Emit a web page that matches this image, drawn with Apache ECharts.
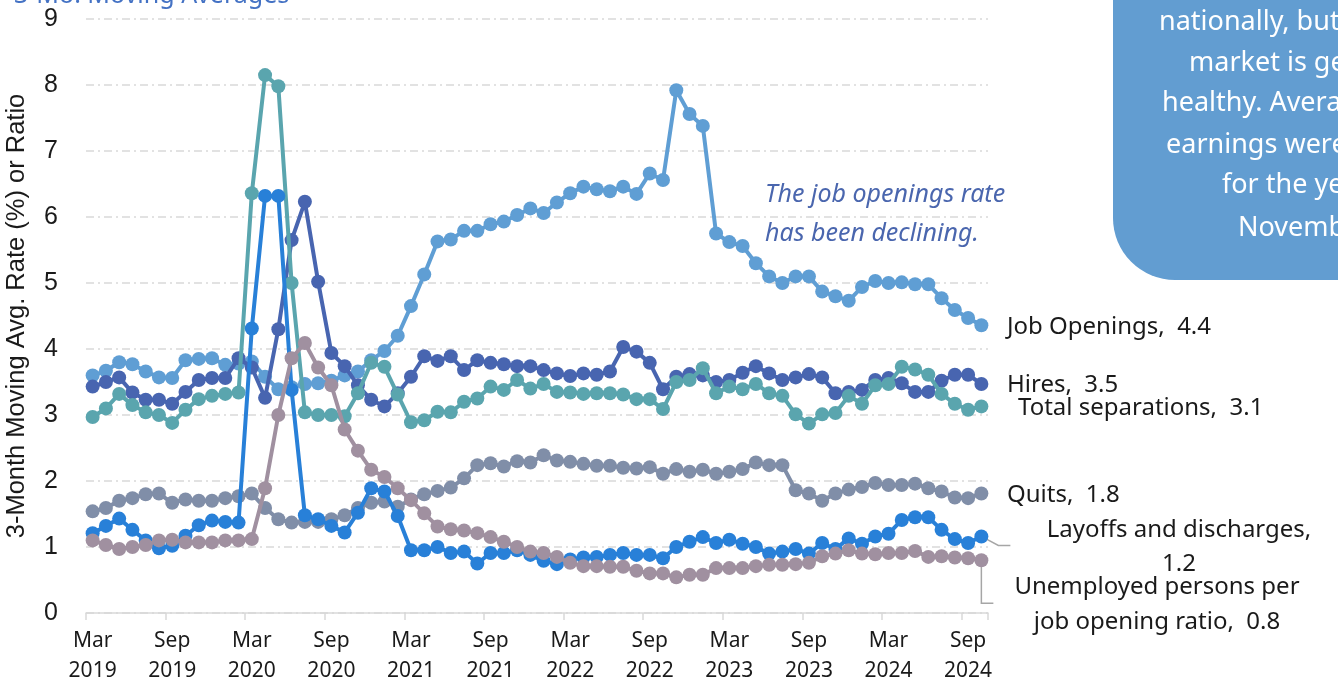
<!DOCTYPE html>
<html>
<head>
<meta charset="utf-8">
<script src="https://cdn.jsdelivr.net/npm/echarts@6/dist/echarts.min.js"></script>
<style>
html,body{margin:0;padding:0;background:#fff;}
#c{width:1338px;height:683px;}
</style>
</head>
<body>
<div id="c"></div>
<script>
const months = ['Mar 2019','Apr 2019','May 2019','Jun 2019','Jul 2019','Aug 2019','Sep 2019','Oct 2019','Nov 2019','Dec 2019','Jan 2020','Feb 2020',
'Mar 2020','Apr 2020','May 2020','Jun 2020','Jul 2020','Aug 2020','Sep 2020','Oct 2020','Nov 2020','Dec 2020','Jan 2021','Feb 2021',
'Mar 2021','Apr 2021','May 2021','Jun 2021','Jul 2021','Aug 2021','Sep 2021','Oct 2021','Nov 2021','Dec 2021','Jan 2022','Feb 2022',
'Mar 2022','Apr 2022','May 2022','Jun 2022','Jul 2022','Aug 2022','Sep 2022','Oct 2022','Nov 2022','Dec 2022','Jan 2023','Feb 2023',
'Mar 2023','Apr 2023','May 2023','Jun 2023','Jul 2023','Aug 2023','Sep 2023','Oct 2023','Nov 2023','Dec 2023','Jan 2024','Feb 2024',
'Mar 2024','Apr 2024','May 2024','Jun 2024','Jul 2024','Aug 2024','Sep 2024','Oct 2024'];

const jobOpenings = [3.60,3.67,3.80,3.77,3.66,3.57,3.56,3.83,3.85,3.86,3.76,3.78,
3.81,3.58,3.39,3.42,3.47,3.48,3.52,3.60,3.66,3.83,3.97,4.20,
4.65,5.13,5.63,5.66,5.79,5.79,5.89,5.93,6.03,6.13,6.06,6.22,
6.36,6.46,6.42,6.39,6.46,6.35,6.66,6.56,7.92,7.56,7.38,5.75,
5.62,5.56,5.30,5.10,5.00,5.10,5.10,4.87,4.80,4.73,4.94,5.03,
5.00,5.01,4.98,4.98,4.77,4.59,4.47,4.36];

const hires = [3.43,3.50,3.57,3.34,3.23,3.23,3.17,3.35,3.53,3.56,3.56,3.86,
3.72,3.26,4.30,5.65,6.23,5.02,3.94,3.74,3.45,3.23,3.13,3.33,
3.58,3.89,3.82,3.89,3.68,3.83,3.79,3.77,3.74,3.74,3.68,3.63,
3.59,3.63,3.61,3.66,4.03,3.96,3.79,3.39,3.58,3.62,3.60,3.50,
3.53,3.64,3.74,3.63,3.53,3.57,3.62,3.57,3.33,3.35,3.38,3.53,
3.56,3.48,3.35,3.35,3.52,3.61,3.61,3.47];

const totalSeparations = [2.97,3.10,3.32,3.15,3.04,3.00,2.88,3.08,3.24,3.29,3.32,3.34,
6.36,8.15,7.98,5.00,3.04,3.00,3.00,2.98,3.33,3.79,3.73,3.31,
2.89,2.92,3.05,3.04,3.20,3.25,3.43,3.38,3.53,3.40,3.47,3.35,
3.34,3.32,3.33,3.33,3.31,3.24,3.24,3.09,3.50,3.53,3.71,3.33,
3.43,3.39,3.47,3.33,3.29,3.01,2.87,3.01,3.03,3.29,3.17,3.45,
3.47,3.73,3.69,3.61,3.32,3.17,3.08,3.13];

const quits = [1.54,1.59,1.70,1.74,1.80,1.81,1.67,1.72,1.70,1.70,1.74,1.77,
1.81,1.59,1.42,1.37,1.38,1.38,1.42,1.48,1.59,1.67,1.69,1.61,
1.72,1.80,1.85,1.90,2.04,2.24,2.27,2.22,2.30,2.28,2.39,2.31,
2.29,2.26,2.23,2.23,2.20,2.19,2.21,2.11,2.18,2.14,2.17,2.11,
2.14,2.18,2.28,2.24,2.24,1.86,1.81,1.70,1.81,1.87,1.91,1.97,
1.94,1.94,1.96,1.89,1.84,1.75,1.74,1.81];

const layoffs = [1.21,1.32,1.43,1.26,1.10,0.98,1.02,1.17,1.33,1.40,1.38,1.37,
4.31,6.32,6.32,3.38,1.48,1.42,1.32,1.22,1.52,1.89,1.84,1.47,
0.95,0.95,1.00,0.91,0.93,0.75,0.91,0.91,0.95,0.88,0.79,0.74,
0.81,0.84,0.85,0.88,0.91,0.88,0.88,0.83,1.00,1.08,1.15,1.06,
1.11,1.05,1.00,0.90,0.93,0.97,0.90,1.06,0.97,1.13,1.05,1.16,
1.20,1.41,1.45,1.45,1.26,1.12,1.06,1.16];

const unemployedRatio = [1.10,1.03,0.97,1.00,1.03,1.10,1.11,1.07,1.07,1.07,1.10,1.10,
1.12,1.89,3.00,3.86,4.09,3.72,3.45,2.78,2.46,2.17,2.06,1.89,
1.71,1.51,1.31,1.27,1.25,1.21,1.15,1.08,1.00,0.93,0.91,0.85,
0.76,0.71,0.71,0.70,0.70,0.64,0.60,0.60,0.54,0.58,0.58,0.68,
0.68,0.68,0.71,0.73,0.73,0.74,0.76,0.86,0.90,0.95,0.90,0.89,
0.91,0.91,0.94,0.85,0.86,0.84,0.83,0.80];

const seriesNames = ['Job Openings','Hires','Total separations','Quits','Layoffs and discharges','Unemployed persons per job opening ratio'];
const seriesColors = ['#5f9ed4','#4865b0','#5aa5ae','#808ea8','#2880d8','#a090a0'];
const yTicks = [0,1,2,3,4,5,6,7,8,9];
const titleText = '3-Mo. Moving Averages';
const yAxisTitle = '3-Month Moving Avg. Rate (%) or Ratio';
const noteLines = ['nationally, but the','market is generally','healthy. Average','earnings were up','for the year','November'];
const annotationLines = ['The job openings rate','has been declining.'];

const allData = [jobOpenings,hires,totalSeparations,quits,layoffs,unemployedRatio];
const SANS = '"Noto Sans", "Open Sans", sans-serif';
const ARIAL = '"Liberation Sans", Arial, sans-serif';

const chart = echarts.init(document.getElementById('c'), null, {renderer:'canvas'});

const series = allData.map((d,i)=>({
  name: seriesNames[i],
  type: 'line',
  data: d,
  symbol: 'circle',
  symbolSize: 14,
  showSymbol: true,
  showAllSymbol: true,
  lineStyle: {width: 4, color: seriesColors[i]},
  itemStyle: {color: seriesColors[i]},
  emphasis: {disabled: true},
  animation: false,
  z: 2 + i
}));

chart.setOption({
  animation: false,
  grid: {left: 86, right: 350, top: 19, bottom: 70, containLabel: false, outerBoundsMode: 'none'},
  xAxis: {
    type: 'category',
    data: months,
    boundaryGap: true,
    axisLine: {show: true, lineStyle: {color: '#d9d9d9', width: 1.5}},
    axisTick: {show: true, interval: 5, length: 7, alignWithLabel: false, lineStyle: {color: '#d9d9d9', width: 1.5}},
    axisLabel: {
      interval: 5, fontSize: 21, fontFamily: SANS, color: '#1a1a1a', lineHeight: 30, margin: 13,
      formatter: v => v.replace(' ', '\n')
    },
    splitLine: {show: false}
  },
  yAxis: {
    type: 'value',
    min: yTicks[0], max: yTicks[yTicks.length-1], interval: 1,
    name: yAxisTitle,
    nameLocation: 'middle',
    nameGap: 56,
    nameTextStyle: {fontSize: 25.5, fontFamily: ARIAL, color: '#1a1a1a'},
    axisLine: {show: false},
    axisTick: {show: false},
    axisLabel: {fontSize: 25, fontFamily: ARIAL, color: '#1a1a1a', margin: 28},
    splitLine: {show: true, lineStyle: {color: '#d9d9d9', width: 1.5, type: [8,4,2,4]}}
  },
  series: series
});

function lastPx(i){
  const d = allData[i];
  return chart.convertToPixel({seriesIndex: i}, [d.length-1, d[d.length-1]]);
}
function lastVal(i){ const d = allData[i]; return d[d.length-1].toFixed(1); }

const pL = lastPx(4), pU = lastPx(5);
const labelStyle = {fill: '#1a1a1a', fontSize: 24, fontFamily: SANS};

const graphic = [
  {type:'text', x: 14, y: 8, z: 10, style:{text: titleText, fill:'#4472c4', fontSize: 25, fontFamily: SANS, verticalAlign:'bottom', align:'left'}},
  {type:'rect', x: 1113, y: -40, z: 5, shape:{width: 260, height: 320, r:[0,0,0,62]}, style:{fill:'#629dd1'}},
  {type:'text', x: 765, y: 195, z: 10, style:{text: annotationLines[0], fill:'#4a66ae', fontSize: 25, fontStyle:'italic', fontFamily: SANS, verticalAlign:'middle'}},
  {type:'text', x: 765, y: 234, z: 10, style:{text: annotationLines[1], fill:'#4a66ae', fontSize: 25, fontStyle:'italic', fontFamily: SANS, verticalAlign:'middle'}},
  {type:'text', x: 1007, y: 327, z: 10, style:Object.assign({text: seriesNames[0] + ',  ' + lastVal(0), verticalAlign:'middle'}, labelStyle)},
  {type:'text', x: 1007, y: 385, z: 10, style:Object.assign({text: seriesNames[1] + ',  ' + lastVal(1), verticalAlign:'middle'}, labelStyle)},
  {type:'text', x: 1018, y: 408, z: 10, style:Object.assign({text: seriesNames[2] + ',  ' + lastVal(2), verticalAlign:'middle'}, labelStyle)},
  {type:'text', x: 1007, y: 495, z: 10, style:Object.assign({text: seriesNames[3] + ',  ' + lastVal(3), verticalAlign:'middle'}, labelStyle)},
  {type:'text', x: 1179, y: 530, z: 10, style:Object.assign({text: seriesNames[4] + ',', verticalAlign:'middle', align:'center'}, labelStyle)},
  {type:'text', x: 1179, y: 564, z: 10, style:Object.assign({text: lastVal(4), verticalAlign:'middle', align:'center'}, labelStyle)},
  {type:'text', x: 1157, y: 587, z: 10, style:Object.assign({text: 'Unemployed persons per', verticalAlign:'middle', align:'center'}, labelStyle)},
  {type:'text', x: 1157, y: 622, z: 10, style:Object.assign({text: 'job opening ratio,  ' + lastVal(5), verticalAlign:'middle', align:'center'}, labelStyle)},
  {type:'polyline', z: 1, shape:{points:[[pL[0],pL[1]],[pL[0]+17,pL[1]+9],[pL[0]+29,pL[1]+9]]}, style:{stroke:'#a6a6a6', lineWidth:1.5, fill:null}},
  {type:'polyline', z: 1, shape:{points:[[pU[0],pU[1]],[pU[0],pU[1]+43],[pU[0]+12,pU[1]+43]]}, style:{stroke:'#a6a6a6', lineWidth:1.5, fill:null}}
];
const noteX = [1159,1189,1162,1166,1222,1238];
const noteY = [22,63,103,145,185,228];
noteLines.forEach((t,i)=>{
  graphic.push({type:'text', x: noteX[i], y: noteY[i], z: 11, style:{text: t, fill:'#ffffff', fontSize: 27, fontFamily: SANS, verticalAlign:'middle'}});
});

chart.setOption({graphic: graphic});
</script>
</body>
</html>
